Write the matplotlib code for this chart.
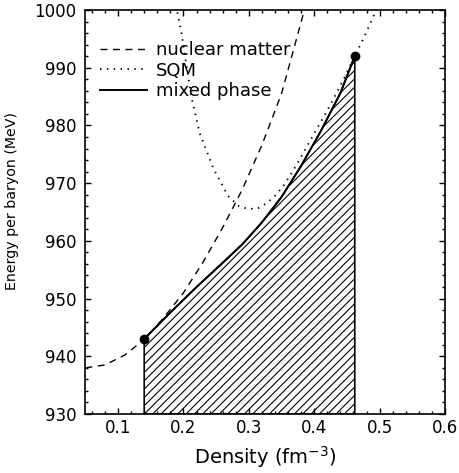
import matplotlib
matplotlib.use("Agg")
import matplotlib.pyplot as plt
import numpy as np
from matplotlib.ticker import MultipleLocator

# nuclear matter (dashed)
rho_nm = [0.05, 0.08, 0.11, 0.14, 0.17, 0.20, 0.23, 0.26, 0.29, 0.32, 0.35, 0.385, 0.395]
E_nm = [938.0, 938.5, 940.2, 942.9, 946.7, 951.0, 956.3, 962.3, 968.9, 976.6, 985.5, 1000.0, 1004.0]

# strange quark matter (dotted)
rho_sqm = [0.183, 0.19, 0.197, 0.212, 0.225, 0.246, 0.268, 0.285, 0.30, 0.315, 0.327,
           0.34, 0.353, 0.37, 0.39, 0.42, 0.445, 0.462, 0.475, 0.495, 0.50]
E_sqm = [1003.0, 1000.0, 996.0, 985.0, 978.6, 972.5, 967.8, 966.0, 965.5, 965.7, 966.5,
         967.8, 969.5, 972.6, 976.6, 982.6, 988.0, 992.0, 995.0, 1000.0, 1001.5]

# mixed phase (solid)
rho_mix = [0.14, 0.18, 0.22, 0.26, 0.29, 0.32, 0.35, 0.38, 0.41, 0.44, 0.462]
E_mix = [943.0, 947.6, 952.0, 956.2, 959.4, 963.2, 967.6, 973.0, 979.0, 985.6, 992.0]

# end points of the mixed phase
rho_pts = [0.14, 0.462]
E_pts = [943.0, 992.0]

plt.rcParams['font.family'] = ['DejaVu Sans']
plt.rcParams['hatch.linewidth'] = 0.8

fig = plt.figure(figsize=(4.59, 4.73), dpi=100)
ax = fig.add_axes([0.186, 0.1247, 0.7835, 0.8542])

ax.fill_between(rho_mix, E_mix, 930, facecolor='none', edgecolor='k',
                hatch='////', linewidth=1.2)
ax.plot(rho_nm, E_nm, color='k', lw=1.0, dashes=(5, 4), label='nuclear matter')
ax.plot(rho_sqm, E_sqm, color='k', lw=1.3, linestyle=(0, (0.8, 3)), label='SQM')
ax.plot(rho_mix, E_mix, color='k', lw=1.4, label='mixed phase')
ax.plot(rho_pts, E_pts, 'o', color='k', ms=7, mew=0)

ax.set_xlim(0.05, 0.6)
ax.set_ylim(930, 1000)
ax.xaxis.set_major_locator(MultipleLocator(0.1))
ax.xaxis.set_minor_locator(MultipleLocator(0.02))
ax.yaxis.set_major_locator(MultipleLocator(10))
ax.yaxis.set_minor_locator(MultipleLocator(2))
ax.tick_params(which='both', direction='in', top=True, right=True, width=1.0)
ax.tick_params(which='major', length=4.5)
ax.tick_params(which='minor', length=2.5)
ax.tick_params(axis='x', labelsize=12, pad=3.5)
ax.tick_params(axis='y', labelsize=12, pad=6.5)
ax.set_xticks([0.1, 0.2, 0.3, 0.4, 0.5, 0.6])
ax.set_xticklabels(['0.1', '0.2', '0.3', '0.4', '0.5', '0.6'])
for s in ax.spines.values():
    s.set_linewidth(1.2)

ax.set_xlabel('Density (fm$^{-3}$)', fontsize=14)
ax.xaxis.set_label_coords(0.5, -0.075)
ax.set_ylabel('Energy per baryon (MeV)', fontsize=10.2)
ax.yaxis.set_label_coords(-0.185, 0.527)

ax.legend(loc='upper left', bbox_to_anchor=(0.04, 0.922), frameon=False,
          fontsize=13, handlelength=2.6, handletextpad=0.5, labelspacing=0.12,
          borderpad=0, borderaxespad=0)

fig.savefig('out.png', dpi=100)
